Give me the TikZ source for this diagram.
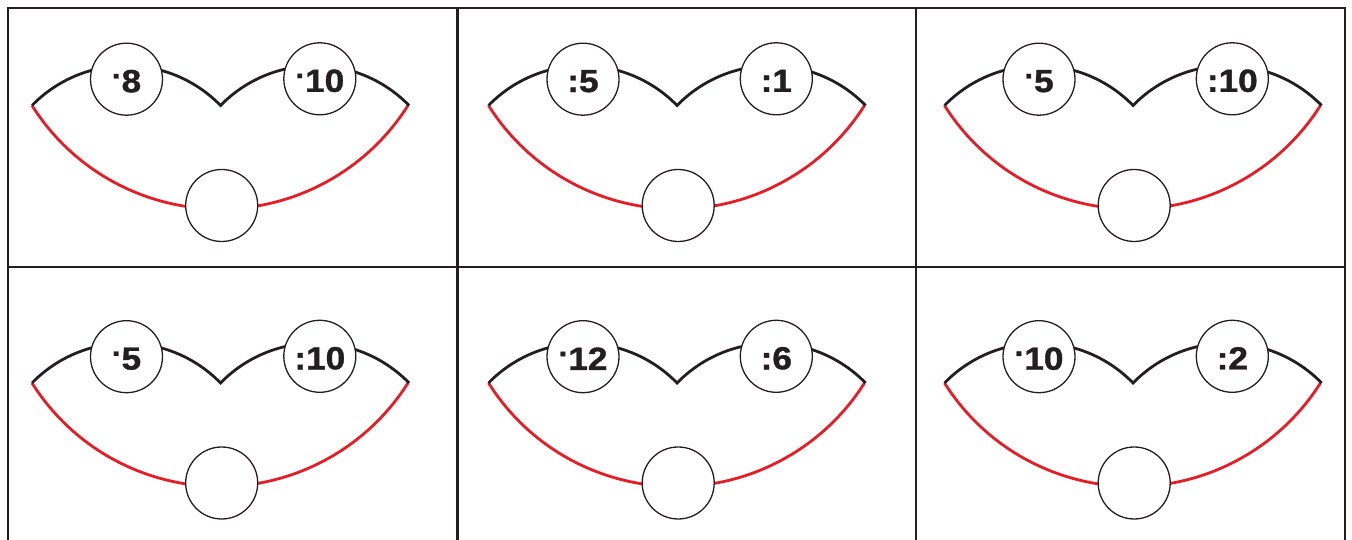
\documentclass[tikz,border=0pt]{standalone}
\usepackage{fontspec}
\setmainfont{Liberation Sans}
\newfontfamily\numfont{Liberation Sans Bold}[FakeBold=1.2,FakeStretch=1.1]
\usetikzlibrary{positioning}
\definecolor{inkblack}{RGB}{35,31,32}
\definecolor{arcred}{RGB}{232,28,36}
% raised multiplication dot
\newcommand{\mdot}{\raisebox{0.43em}{\scalebox{0.9}{.}}\kern0.03em}

\begin{document}
\begin{tikzpicture}[x=1pt,y=1pt,
  frame/.style={draw=inkblack,line width=2.6pt},
  rim/.style={draw=inkblack,line width=2.8pt},
  lowrim/.style={draw=arcred,line width=2.8pt},
  bubble/.style={circle,draw=inkblack,line width=1.3pt,fill=white,
    minimum size=72pt,inner sep=0pt},
  value/.style={font=\numfont\fontsize{32}{34}\selectfont,text=inkblack,
    inner sep=0pt}]
\useasboundingbox (0,0) rectangle (1352,540);
% grid
\draw[frame] (8,-10) -- (8,532) -- (1345,532) -- (1345,-10);
\draw[frame] (8,273) -- (1345,273);
\foreach \x in {457.5,916} \draw[frame] (\x,532) -- (\x,-10);
% cells
\foreach \cx/\cy/\lt/\rt [count=\i] in {
  220.5/434.5/{\mdot8}/{\mdot10},
  677/434.5/{:5}/{:1},
  1133/434.5/{\mdot5}/{:10},
  220.5/157/{\mdot5}/{:10},
  677/157/{\mdot12}/{:6},
  1133/157/{\mdot10}/{:2}}{
  \begin{scope}[shift={(\cx,\cy)}]
    \coordinate (dip\i) at (0,0);
    \draw[lowrim] (-188.5,0) arc[start angle=212.3,end angle=327.7,radius=222.4pt];
    \draw[rim] (-188.5,0) arc[start angle=135.8,end angle=44.2,radius=131.5pt]
      arc[start angle=135.8,end angle=44.2,radius=131.5pt];
    \node[bubble] (lhs\i) at (-94,26.3) {};
    \node[bubble] (rhs\i) at (99.3,26.7) {};
    \node[bubble] (ans\i) at (1.2,-100) {};
    \node[value] (lhstext\i) at ([yshift=-2pt]lhs\i.center) {\lt};
    \node[value] (rhstext\i) at ([yshift=-2pt]rhs\i.center) {\rt};
  \end{scope}
}
\end{tikzpicture}
\end{document}
